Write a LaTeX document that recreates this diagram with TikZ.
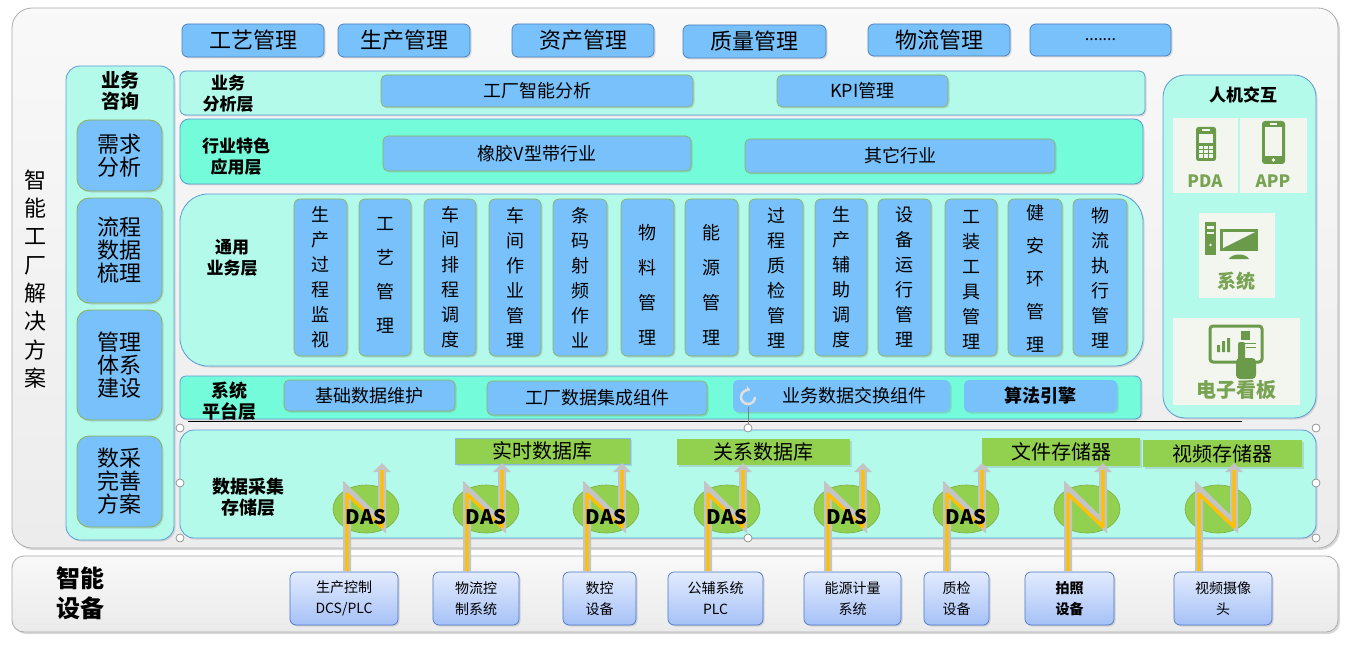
\documentclass[tikz,border=0pt]{standalone}
\usepackage{fontspec}
\setmainfont{Noto Sans CJK SC}
\usetikzlibrary{shadows,arrows.meta,shapes.geometric}
\definecolor{bfill}{HTML}{78C1FA}
\definecolor{bline}{HTML}{4F81BD}
\definecolor{gline}{HTML}{8DB255}
\definecolor{aqua}{HTML}{B4FAEB}
\definecolor{aquab}{HTML}{74FBD9}
\definecolor{pline}{HTML}{5B9BD5}
\definecolor{dasg}{HTML}{92D050}
\definecolor{dasb}{HTML}{7EAE45}
\definecolor{icong}{HTML}{6B9A4B}
\definecolor{icontxt}{HTML}{77A352}
\definecolor{iconbg}{HTML}{F3F6EF}
\definecolor{arrgray}{HTML}{C4C4C4}
\definecolor{arryel}{HTML}{FFC000}
\definecolor{devtop}{HTML}{E2EBFD}
\definecolor{devbot}{HTML}{A6C1F7}
\definecolor{devline}{HTML}{4A76C8}
\newcommand\bx[7]{%
  \pgfmathsetmacro\bxcx{(#3+#5)/2}%
  \pgfmathsetmacro\bxcy{(#4+#6)/2}%
  \pgfmathsetmacro\bxw{#5-#3}%
  \pgfmathsetmacro\bxh{#6-#4}%
  \node[#1,minimum width=\bxw pt,minimum height=\bxh pt] (#2) at (\bxcx,\bxcy) {#7};}
\tikzset{
 base/.style={inner sep=0pt,outer sep=0pt,align=center,text=black},
 shd/.style={drop shadow={opacity=0.25,shadow xshift=1.5pt,shadow yshift=-1.5pt}},
 topbox/.style={base,shd,draw=bline,fill=bfill,rounded corners=6pt,line width=0.8pt,font=\fontsize{22}{24}\selectfont},
 advbox/.style={base,shd,draw=gline,fill=bfill,rounded corners=12pt,line width=0.8pt,font=\fontsize{22}{23}\selectfont},
 inbox/.style={base,shd,draw=gline,fill=bfill,rounded corners=5pt,line width=0.6pt,font=\fontsize{18}{20}\selectfont},
 colbox/.style={base,shd,draw=gline,fill=bfill,rounded corners=6pt,line width=0.6pt},
 coltxt/.style={base,font=\fontsize{18}{25}\selectfont},
 band/.style={base,shd,draw=pline,fill=aqua,line width=0.8pt},
 lbl/.style={base,font=\bfseries\fontsize{17}{21}\selectfont},
 store/.style={base,shd,fill=dasg,font=\fontsize{20}{22}\selectfont},
 das/.style={ellipse,draw=dasb,fill=dasg,minimum width=66pt,minimum height=48pt,inner sep=0pt,line width=0.6pt},
 dastxt/.style={base,font=\bfseries\fontsize{20}{22}\selectfont},
 dev/.style={base,shd,draw=devline,top color=devtop,bottom color=devbot,rounded corners=6pt,line width=0.7pt,font=\fontsize{14}{21}\selectfont},
 iconbox/.style={base,fill=iconbg},
 icontext/.style={base,text=icontxt,font=\bfseries\fontsize{17}{19}\selectfont},
 handle/.style={circle,draw=gray,fill=white,minimum size=8pt,inner sep=0pt,line width=0.6pt},
 nline/.style={draw=arrgray,line width=8pt,line join=miter,-{Triangle[width=17pt,length=9pt]}},
 yline/.style={draw=arryel,line width=3.2pt,line join=round},
}
\begin{document}
\begin{tikzpicture}[x=1pt,y=-1pt]
\useasboundingbox[fill=white] (0,0) rectangle (1356,647);
% outer panels
\bx{base,draw=gray!65,top color=gray!5,bottom color=gray!15,rounded corners=20pt,line width=0.8pt,drop shadow={opacity=0.3,shadow xshift=2pt,shadow yshift=-2pt}}{outer}{12}{8}{1338}{548}{}
\bx{base,draw=gray!65,top color=gray!5,bottom color=gray!16,rounded corners=12pt,line width=0.8pt,drop shadow={opacity=0.3,shadow xshift=2pt,shadow yshift=-2pt}}{bottom}{12}{556}{1338}{632}{}
\node[base,font=\fontsize{22}{28.3}\selectfont] (title) at (35,279) {智\\能\\工\\厂\\解\\决\\方\\案};
\node[base,font=\bfseries\fontsize{24}{30}\selectfont] (devt) at (80,593) {智能\\设备};
% top row
\bx{topbox}{t1}{182}{24}{324}{57}{工艺管理}
\bx{topbox}{t2}{338}{24}{470}{57}{生产管理}
\bx{topbox}{t3}{512}{24}{654}{57}{资产管理}
\bx{topbox}{t4}{683}{25}{826}{58}{质量管理}
\bx{topbox}{t5}{868}{24}{1010}{56}{物流管理}
\bx{topbox,font=\fontsize{16}{16}\selectfont}{t6}{1030}{24}{1171}{56}{.......}
% left advisory panel
\bx{band,rounded corners=14pt}{advp}{66}{66}{174}{540}{}
\node[lbl,font=\bfseries\fontsize{19}{21}\selectfont] (advt) at (120,91) {业务\\咨询};
\bx{advbox}{a1}{77}{120}{162}{191}{需求\\分析}
\bx{advbox}{a2}{77}{198}{162}{303}{流程\\数据\\梳理}
\bx{advbox}{a3}{77}{310}{162}{420}{管理\\体系\\建设}
\bx{advbox}{a4}{77}{436}{162}{527}{数采\\完善\\方案}
% band 1
\bx{band,rounded corners=6pt}{b1}{180}{71}{1145}{115}{}
\node[lbl] (l1) at (228,94) {业务\\分析层};
\bx{inbox}{i1}{381}{75}{693}{107}{工厂智能分析}
\bx{inbox}{i2}{777}{75}{948}{107}{KPI管理}
% band 2
\bx{band,fill=aquab,rounded corners=9pt}{b2}{180}{119}{1143}{184}{}
\node[lbl] (l2) at (236,157) {行业特色\\应用层};
\bx{inbox}{i3}{383}{136}{691}{171}{橡胶V型带行业}
\bx{inbox}{i4}{745}{139}{1055}{173}{其它行业}
% band 3
\bx{band,rounded corners=28pt}{b3}{180}{194}{1143}{366}{}
\node[lbl] (l3) at (232,258) {通用\\业务层};
\bx{colbox}{c1}{294}{199}{347}{356}{}
\bx{colbox}{c2}{359}{199}{411}{356}{}
\bx{colbox}{c3}{424}{199}{476}{356}{}
\bx{colbox}{c4}{489}{199}{541}{356}{}
\bx{colbox}{c5}{553}{199}{607}{356}{}
\bx{colbox}{c6}{621}{199}{674}{356}{}
\bx{colbox}{c7}{685}{199}{738}{356}{}
\bx{colbox}{c8}{749}{199}{803}{356}{}
\bx{colbox}{c9}{815}{199}{867}{356}{}
\bx{colbox}{c10}{878}{199}{931}{356}{}
\bx{colbox}{c11}{945}{199}{997}{356}{}
\bx{colbox}{c12}{1008}{199}{1062}{356}{}
\bx{colbox}{c13}{1073}{199}{1127}{356}{}
\node[coltxt] (ct1) at (320.5,277.5) {生\\产\\过\\程\\监\\视};
\node[coltxt,font=\fontsize{18}{34}\selectfont] (ct2) at (385,275) {工\\艺\\管\\理};
\node[coltxt] (ct3) at (450,277.5) {车\\间\\排\\程\\调\\度};
\node[coltxt] (ct4) at (515,277.5) {车\\间\\作\\业\\管\\理};
\node[coltxt] (ct5) at (580,277.5) {条\\码\\射\\频\\作\\业};
\node[coltxt,font=\fontsize{18}{35}\selectfont] (ct6) at (647.5,285) {物\\料\\管\\理};
\node[coltxt,font=\fontsize{18}{35}\selectfont] (ct7) at (711.5,285) {能\\源\\管\\理};
\node[coltxt] (ct8) at (776,277.5) {过\\程\\质\\检\\管\\理};
\node[coltxt] (ct9) at (841,277.5) {生\\产\\辅\\助\\调\\度};
\node[coltxt] (ct10) at (904.5,277.5) {设\\备\\运\\行\\管\\理};
\node[coltxt] (ct11) at (971,280) {工\\装\\工\\具\\管\\理};
\node[coltxt,font=\fontsize{18}{33}\selectfont] (ct12) at (1035,278) {健\\安\\环\\管\\理};
\node[coltxt] (ct13) at (1100,277.5) {物\\流\\执\\行\\管\\理};
% band 4
\bx{band,fill=aquab,rounded corners=6pt}{b4}{180}{376}{1141}{419}{}
\node[lbl,font=\bfseries\fontsize{18}{21}\selectfont] (l4) at (229,401) {系统\\平台层};
\bx{inbox}{i5}{284}{380}{455}{411}{基础数据维护}
\bx{inbox}{i6}{487}{381}{707}{415}{工厂数据集成组件}
\bx{inbox,draw=none}{i7}{733}{380}{950}{412}{\hspace*{26pt}业务数据交换组件}
\bx{inbox,draw=none}{i8}{964}{380}{1117}{412}{\bfseries 算法引擎}
\draw[black,line width=0.7pt] (188,421) -- (1242,421);
% right HMI panel
\bx{band,rounded corners=22pt}{hmi}{1163}{75}{1316}{418}{}
\node[lbl] (hmit) at (1243,95) {人机交互};
\bx{iconbox}{pda}{1173}{118}{1238}{193}{}
\bx{iconbox}{app}{1240}{118}{1307}{193}{}
\bx{iconbox}{sys}{1199}{213}{1275}{298}{}
\bx{iconbox}{board}{1173}{318}{1300}{405}{}
% PDA icon
\fill[icong,rounded corners=2.5pt] (1196,127) rectangle (1216,161);
\fill[iconbg] (1202,129.5) rectangle (1210,131);
\fill[iconbg] (1199,134) rectangle (1213,143);
\fill[iconbg] (1199,146) rectangle (1213,158);
\draw[icong,line width=1pt] (1203.7,146)--(1203.7,158) (1208.3,146)--(1208.3,158) (1199,150)--(1213,150) (1199,154)--(1213,154);
\node[icontext] (pdat) at (1205,181) {PDA};
% APP icon
\fill[icong,rounded corners=3pt] (1262,121) rectangle (1285,164);
\fill[iconbg] (1265,127) rectangle (1282,156);
\fill[iconbg] (1270,123.5) rectangle (1277,125);
\fill[iconbg] (1273.5,160) circle (1.8);
\node[icontext] (appt) at (1273,181) {APP};
% system icon
\fill[icong] (1205,222) rectangle (1216,255);
\fill[iconbg] (1207,226) rectangle (1214,228.5);
\fill[iconbg] (1207,231.5) rectangle (1214,234);
\fill[iconbg] (1210.5,245) circle (1.4);
\fill[icong] (1220,229) rectangle (1258,251);
\fill[iconbg] (1223,232) -- (1255,232) -- (1223,248) -- cycle;
\fill[icong] (1229,259) .. controls (1232,253) and (1246,253) .. (1249,259) -- cycle;
\node[icontext,font=\bfseries\fontsize{19}{21}\selectfont] (syst) at (1236,281) {系统};
% board icon
\draw[icong,line width=3pt,rounded corners=3pt] (1210,326) rectangle (1262,362);
\fill[icong] (1217,345) rectangle (1220,352) (1222,341) rectangle (1225,352) (1227,338) rectangle (1230,352);
\fill[icong] (1241,331) rectangle (1250,340);
\draw[icong,line width=1pt] (1243,343)--(1256,343) (1246,347)--(1256,347);
\fill[icong,rounded corners=2pt] (1238,342) rectangle (1245,366);
\fill[icong,rounded corners=4pt] (1236,358) rectangle (1256,379);
\node[icontext,font=\bfseries\fontsize{20}{22}\selectfont] (boardt) at (1236,390) {电子看板};
% data band
\bx{band,rounded corners=14pt}{b5}{180}{430}{1316}{538}{}
\node[lbl,font=\bfseries\fontsize{18}{21}\selectfont] (l5) at (248,497) {数据采集\\存储层};
\bx{store,draw=pline!70}{s1}{455}{438}{630}{464}{实时数据库}
\bx{store}{s2}{677}{439}{850}{465}{关系数据库}
\bx{store}{s3}{982}{438}{1140}{466}{文件存储器}
\bx{store}{s4}{1143}{440}{1302}{467}{视频存储器}
% devices
\bx{dev}{d1}{290}{572}{398}{625}{生产控制\\DCS/PLC}
\bx{dev}{d2}{433}{572}{519}{625}{物流控\\制系统}
\bx{dev}{d3}{563}{572}{636}{625}{数控\\设备}
\bx{dev}{d4}{668}{572}{763}{625}{公辅系统\\PLC}
\bx{dev}{d5}{804}{572}{901}{625}{能源计量\\系统}
\bx{dev}{d6}{924}{572}{989}{625}{质检\\设备}
\bx{dev,font=\bfseries\fontsize{14}{21}\selectfont}{d7}{1025}{572}{1114}{625}{拍照\\设备}
\bx{dev}{d8}{1174}{572}{1272}{625}{视频摄像\\头}
% DAS ellipses and N arrows
\foreach \x [count=\i] in {347,467,587,708,828,947,1068,1199} {
  \node[das] (e\i) at ({\x+19},509) {};
}
\foreach \x [count=\i] in {347,467,587,708,828,947,1068,1199} {
  \coordinate (n\i) at (\x,571);
  \coordinate (m\i) at ({\x+35},463);
  \draw[nline] (n\i) -- (\x,490) -- ({\x+35},524) -- (m\i);
  \draw[yline] (n\i) -- (\x,494) -- ({\x+35},527) -- ({\x+35},470);
}
\foreach \i in {1,...,6} {
  \node[dastxt] (dt\i) at ([yshift=-8pt]e\i.center) {DAS};
}
% selection handles
\draw[gray,line width=0.6pt] (748,428) -- (748,407);
\draw[gray!25,line width=2.5pt,-{Stealth[length=5pt,width=7pt]}] (755,397) arc (0:290:7);
\foreach \p [count=\i] in {(180,428),(180,483),(180,538),(748,428),(748,538),(1316,428),(1316,483),(1316,538)} {
  \node[handle] (h\i) at \p {};
}
\end{tikzpicture}
\end{document}
